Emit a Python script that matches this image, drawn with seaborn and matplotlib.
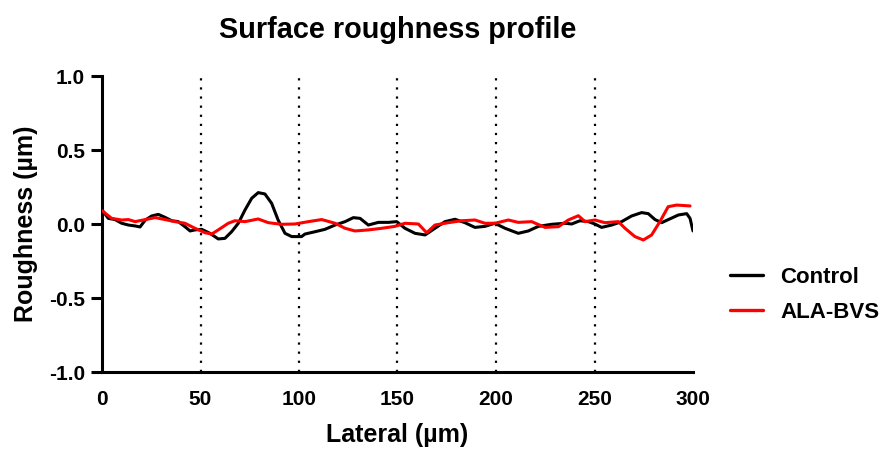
import numpy as np
import pandas as pd
import matplotlib
matplotlib.use("Agg")
import matplotlib.pyplot as plt
import seaborn as sns
from matplotlib.lines import Line2D

# Control profile (lateral µm, roughness µm)
ctrl_x = [0, 0.7, 3.2, 6.6, 10, 13.4, 16.8, 19.3, 22, 25.2, 28.6, 32, 35.4, 38.7, 42.1, 44.7, 47.2,
          50.6, 54.8, 59, 62.4, 65.8, 69.2, 72.6, 76, 79.3, 82.7, 86.1, 89.4, 92.9, 96.3, 101.3,
          103, 108.2, 113.2, 118.3, 123.4, 127.6, 131, 135.2, 140.3, 145.4, 149.6, 153.8, 158.9,
          164, 169, 174.1, 179.2, 184.2, 189.3, 194.4, 199.4, 204.6, 211.3, 216.4, 221.5, 228.3,
          235, 238.4, 242.6, 246.9, 250.2, 253.6, 258.7, 263.8, 268.8, 273.9, 277.3, 280.7, 284.1,
          287.5, 292.6, 296.8, 298.5, 300]
ctrl_y = [0.09, 0.083, 0.038, 0.03, 0.005, -0.007, -0.013, -0.02, 0.027, 0.054, 0.065, 0.045, 0.022,
          0.016, -0.018, -0.047, -0.04, -0.036, -0.063, -0.101, -0.097, -0.052, 0.005, 0.095, 0.174,
          0.212, 0.203, 0.14, 0.027, -0.063, -0.085, -0.085, -0.068, -0.052, -0.036, -0.007, 0.016,
          0.043, 0.038, -0.007, 0.011, 0.011, 0.016, -0.029, -0.063, -0.074, -0.029, 0.016, 0.032,
          0.009, -0.023, -0.016, 0.005, -0.029, -0.063, -0.047, -0.016, -0.002, 0.005, 0.0, 0.022,
          0.016, 0.0, -0.023, -0.007, 0.016, 0.054, 0.077, 0.07, 0.03, 0.009, 0.03, 0.061, 0.07,
          0.038, -0.047]

# ALA-BVS profile
ala_x = [0, 0.7, 4.9, 10, 13.4, 16.8, 22, 27, 32, 37, 42.1, 47.2, 52.3, 55.7, 59, 64.1, 67.5, 72.6,
         79.3, 84.4, 91.1, 97.9, 104.8, 111.5, 118.3, 123.4, 128.4, 135.2, 142, 148.7, 153.8, 160.6,
         164.8, 169, 175.8, 182.5, 189.3, 194.4, 199.5, 206.3, 211.3, 218.1, 224.9, 231.7, 236.7,
         241.8, 245.2, 250.2, 255.3, 262.1, 265.5, 270.5, 274.8, 279, 283.2, 287.4, 291.7, 298.5]
ala_y = [0.09, 0.083, 0.038, 0.027, 0.03, 0.016, 0.03, 0.043, 0.03, 0.016, 0.005, -0.029, -0.059,
         -0.068, -0.04, 0.005, 0.022, 0.016, 0.034, 0.009, -0.002, 0.0, 0.016, 0.03, 0.005, -0.029,
         -0.047, -0.04, -0.029, -0.016, 0.005, 0.0, -0.059, -0.007, 0.009, 0.022, 0.027, 0.005,
         0.005, 0.027, 0.011, 0.016, -0.023, -0.018, 0.027, 0.056, 0.016, 0.027, 0.009, 0.016,
         -0.029, -0.085, -0.108, -0.074, 0.016, 0.117, 0.128, 0.122]

groups = ["Control", "ALA-BVS"]
colors = ["#000000", "#ff0000"]
x_ticks = [0, 50, 100, 150, 200, 250, 300]
y_ticks = [-1.0, -0.5, 0.0, 0.5, 1.0]
guide_x = [50, 100, 150, 200, 250]

df = pd.concat([
    pd.DataFrame({"Lateral": ctrl_x, "Roughness": ctrl_y, "Group": groups[0]}),
    pd.DataFrame({"Lateral": ala_x, "Roughness": ala_y, "Group": groups[1]}),
])

sns.set_style("ticks")
plt.rcParams["font.family"] = ["Liberation Sans", "DejaVu Sans"]
plt.rcParams["font.weight"] = "bold"
plt.rcParams["text.color"] = "black"
plt.rcParams["axes.labelcolor"] = "black"

fig = plt.figure(figsize=(8.83, 4.57), dpi=100)
ax = fig.add_axes([102 / 883, 1 - 372 / 457, (693 - 102) / 883, (372 - 76) / 457])

for gx in guide_x:
    ax.axvline(gx, color="black", linestyle=(0, (1, 3.1)), linewidth=1.6, zorder=1)

sns.lineplot(data=df, x="Lateral", y="Roughness", hue="Group", hue_order=groups,
             palette=colors, linewidth=2.2, ax=ax, legend=False, sort=False,
             estimator=None, zorder=3)

ax.set_xlim(0, 300)
ax.set_ylim(-1.0, 1.0)
ax.set_xticks(x_ticks)
ax.set_yticks(y_ticks)
ax.set_xticklabels([str(v) for v in x_ticks], fontsize=15, fontweight="bold")
ax.set_yticklabels([f"{v:.1f}" for v in y_ticks], fontsize=15, fontweight="bold")
ax.set_xlabel("Lateral (µm)", fontsize=18, fontweight="bold", labelpad=10)
ax.set_ylabel("Roughness (µm)", fontsize=18, fontweight="bold", labelpad=8)
ax.set_title("Surface roughness profile", fontsize=20.8, fontweight="bold", pad=27)

for side in ["top", "right"]:
    ax.spines[side].set_visible(False)
for side in ["left", "bottom"]:
    ax.spines[side].set_linewidth(2.2)
    ax.spines[side].set_color("black")
ax.tick_params(axis="x", width=0, length=0, color="black", labelcolor="black", pad=13)
ax.tick_params(axis="y", width=2.2, length=8, color="black", labelcolor="black", pad=4.2)

handles = [Line2D([0], [0], color=c, linewidth=2.4) for c in colors]
fig.legend(handles, groups, loc="center left", bbox_to_anchor=(710 / 883, 1 - 295 / 457),
           frameon=False, prop={"size": 16, "weight": "bold"}, handlelength=1.5,
           labelspacing=0.65, handletextpad=0.75)

fig.savefig("out.png", dpi=100)
